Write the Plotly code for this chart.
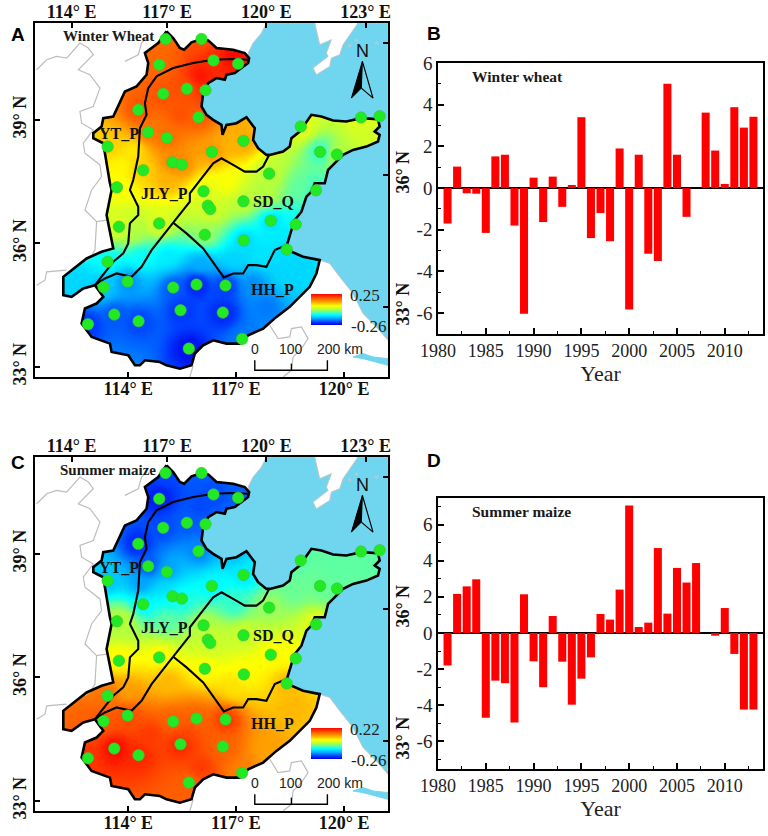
"""Winter wheat / summer maize anomaly maps with yearly bar charts."""

import numpy as np
import plotly.graph_objects as go

W, H = 768, 836

YEARS = list(range(1981, 2014))
WHEAT = [-1.7, 1.03, -0.25, -0.27, -2.15, 1.52, 1.6, -1.8, -6.03, 0.5, -1.63, 0.55, -0.9, 0.15, 3.4, -2.4, -1.2,
         -2.55, 1.9, -5.82, 1.6, -3.15, -3.5, 5.0, 1.6, -1.38, 0, 3.62, 1.8, 0.2, 3.88, 2.9, 3.42]
MAIZE = [-1.8, 2.16, 2.58, 2.97, -4.7, -2.64, -2.78, -4.96, 2.14, -1.57, -3.0, 0.94, -1.59, -3.97, -2.53, -1.35,
         1.05, 0.74, 2.4, 7.05, 0.33, 0.57, 4.7, 1.07, 3.6, 2.79, 3.87, 0, -0.15, 1.38, -1.16, -4.24, -4.24]

# map units: projected coordinates of the sheet, same for both maps
ST_X = [497, 605, 478, 641, 715, 490, 561, 617, 415, 596, 445, 501, 323, 731, 636, 961, 1012, 518, 546, 430, 808,
        903, 1084, 1140, 351, 949, 611, 731, 624, 631, 813, 888, 478, 357, 615, 732, 861, 323, 383, 311, 520, 590,
        677, 343, 416, 264, 542, 669, 727, 567]
ST_Y = [118, 118, 195, 182, 192, 282, 267, 271, 330, 352, 397, 414, 440, 423, 456, 456, 464, 487, 494, 511, 521,
        380, 353, 349, 562, 571, 574, 604, 617, 627, 662, 673, 670, 680, 704, 721, 748, 785, 844, 861, 862, 853,
        856, 943, 963, 972, 930, 937, 1016, 1045]
ST_WHEAT = [0.17, 0.19, 0.17, 0.22, 0.235, 0.19, 0.19, 0.22, 0.19, 0.18, 0.16, 0.17, 0.09, 0.12, 0.13, -0.07, 0.0,
            0.15, 0.14, 0.09, 0.005, 0.035, 0.035, 0.03, 0.05, -0.07, 0.035, 0.005, 0.02, 0.02, -0.12, -0.09, 0.035,
            0.035, -0.015, -0.12, -0.12, -0.09, -0.17, -0.13, -0.2, -0.245, -0.22, -0.2, -0.21, -0.22, -0.22,
            -0.235, -0.18, -0.25]
ST_MAIZE = [-0.21, -0.2, -0.245, -0.21, -0.2, -0.21, -0.2, -0.2, -0.235, -0.18, -0.21, -0.165, -0.14, -0.115,
            -0.105, -0.055, -0.06, -0.1, -0.09, -0.105, -0.03, -0.06, -0.06, -0.06, -0.02, 0.02, -0.02, 0.0, 0.0,
            0.0, 0.04, 0.04, 0.04, 0.04, 0.04, 0.04, 0.085, 0.14, 0.17, 0.16, 0.15, 0.15, 0.185, 0.22, 0.195,
            0.185, 0.2, 0.15, 0.125, 0.15]

# surface values read between stations, where no station sits
EXTRA_WHEAT = [(850, 820, -0.12), (900, 800, -0.12), (760, 850, -0.17), (800, 920, -0.18), (500, 770, -0.105),
               (600, 790, -0.15), (420, 770, -0.09), (700, 780, -0.12), (780, 770, -0.11), (230, 850, -0.12),
               (400, 700, -0.005), (600, 230, 0.24), (700, 170, 0.25), (540, 340, 0.19), (700, 420, 0.11),
               (400, 450, 0.07), (360, 500, 0.06), (500, 540, 0.11), (680, 550, 0.055), (800, 590, 0.0),
               (900, 560, -0.045), (850, 700, -0.105), (1100, 400, 0.02)]
EXTRA_MAIZE = [(560, 900, 0.17), (600, 1000, 0.18), (450, 900, 0.18), (800, 950, 0.1), (880, 820, 0.085),
               (250, 860, 0.15), (700, 760, 0.057), (500, 740, 0.085), (380, 770, 0.1), (600, 220, -0.21),
               (700, 360, -0.14), (880, 470, -0.055), (700, 510, -0.08), (500, 560, -0.06), (370, 560, -0.01),
               (500, 460, -0.125), (420, 450, -0.165), (1100, 400, -0.06), (1000, 400, -0.06)]

NORTH = [(500, 95), (520, 115), (540, 145), (553, 150), (575, 128), (605, 118), (625, 122), (650, 145), (700, 150),
         (735, 160)]
COAST = [(748, 175), (745, 190), (725, 205), (705, 220), (680, 225), (675, 240), (650, 235), (625, 250), (610, 280),
         (605, 320), (620, 345), (640, 360), (665, 375), (668, 405), (680, 375), (710, 370), (740, 352), (765, 385),
         (760, 420), (775, 445), (800, 465), (810, 465), (850, 455), (870, 440), (875, 415), (900, 395), (935, 345),
         (965, 350), (1000, 362), (1040, 365), (1085, 355), (1135, 358), (1140, 380), (1125, 395), (1140, 405),
         (1135, 425), (1100, 440), (1060, 450), (1030, 465), (1005, 490), (985, 510), (975, 550), (945, 550),
         (935, 575), (920, 590), (905, 635), (885, 660), (875, 690), (860, 740), (875, 755), (910, 770), (960, 780)]
SOUTH = [(950, 820), (930, 860), (900, 890), (870, 920), (830, 950), (790, 985), (745, 1005), (720, 1030), (680, 1030),
         (640, 1020), (610, 1035), (585, 1060), (575, 1095), (540, 1105), (500, 1095), (480, 1085), (435, 1080),
         (420, 1095), (405, 1095), (385, 1065), (335, 1055), (330, 1030), (275, 1010), (245, 970), (255, 925),
         (290, 910), (310, 890), (285, 855), (250, 865), (215, 890), (190, 885), (190, 830), (260, 775), (305, 755),
         (340, 745), (335, 720), (320, 645), (335, 570), (330, 550), (320, 490), (310, 430), (280, 415), (280, 400),
         (305, 380), (310, 355), (340, 350), (365, 300), (375, 275), (410, 260), (440, 225), (445, 190), (435, 160),
         (475, 130)]
OUTLINE = NORTH + COAST + SOUTH

DIVIDE_1 = [(745, 180), (700, 178), (640, 180), (580, 190), (520, 205), (470, 230), (445, 265), (435, 310), (440, 345),
            (420, 385), (415, 470), (400, 540), (390, 570), (415, 620), (415, 645), (390, 670), (385, 730), (370, 760),
            (340, 785), (305, 830), (285, 855)]
DIVIDE_2 = [(520, 668), (480, 720), (455, 750), (425, 800), (395, 830), (350, 820), (315, 835), (285, 855)]
DIVIDE_3 = [(808, 465), (790, 500), (770, 515), (735, 515), (700, 495), (665, 475), (640, 490), (600, 540), (570, 580),
            (570, 605), (545, 635), (520, 668)]
DIVIDE_4 = [(520, 668), (560, 700), (610, 745), (650, 800), (672, 832), (700, 820), (730, 820), (745, 795), (770, 795),
            (800, 800), (825, 750), (860, 735)]

SEA_NORTH = [(800, 70), (785, 100), (760, 130), (745, 160)]
SEA_EAST = [(990, 790), (1020, 830), (1060, 880), (1090, 940), (1130, 980), (1165, 1020), (1165, 70)]
LIAODONG = [(945, 70), (955, 115), (960, 135), (995, 120), (980, 160), (985, 170), (940, 205), (950, 225), (990, 200),
            (995, 175), (1020, 165), (1030, 135), (1050, 105), (1075, 70)]
RIVER = [(1060, 1070), (1090, 1060), (1120, 1070), (1165, 1075), (1165, 1095), (1130, 1085), (1090, 1075)]
GRAY_LINES = [
    [(110, 210), (140, 180), (170, 170), (200, 175), (240, 130), (265, 145), (280, 165), (235, 210), (270, 225),
     (300, 265), (280, 320), (240, 335), (245, 370), (280, 390), (250, 430), (255, 460), (300, 495), (305, 530),
     (275, 570), (255, 630), (290, 665), (320, 660)],
    [(290, 665), (285, 750), (270, 775), (255, 785)],
    [(200, 810), (140, 815), (135, 840), (110, 855)],
    [(375, 185), (415, 165), (425, 130), (440, 115)],
    [(810, 975), (835, 1015), (870, 1010), (875, 985), (905, 980), (925, 1015), (905, 1045), (880, 1070), (875, 1110),
     (850, 1130)],
    [(580, 1095), (570, 1130)],
]
ISLE_X = [1050, 1070, 1130]
ISLE_Y = [138, 122, 130]

COLORS = [[0, "#0000e8"], [0.1, "#0040ff"], [0.2, "#00a0ff"], [0.33, "#00ffff"], [0.42, "#60ffa0"], [0.5, "#b0ff40"],
          [0.62, "#ffff00"], [0.75, "#ffa000"], [0.88, "#ff5000"], [1, "#ff0000"]]

LON_BOTTOM = [385, 708, 1033]
LON_TOP = [215, 502, 800, 1098]
LAT_LEFT = [360, 730, 1100]
LAT_RIGHT = [130, 525, 920]
SERIF = "Liberation Serif"
SANS = "Liberation Sans"


def inside(px, py, poly):
    # crossing number test on a whole grid
    res = np.zeros(px.shape, dtype=bool)
    n = len(poly)
    for i in range(n):
        x0, y0 = poly[i]
        x1, y1 = poly[(i + 1) % n]
        if y0 == y1:
            continue
        hit = ((y0 > py) != (y1 > py)) & (px < (x1 - x0) * (py - y0) / (y1 - y0) + x0)
        res ^= hit
    return res


def station_surface(vals, extra):
    # inverse distance surface from the read values, masked to the plain
    gx = np.arange(105, 1166, 3.0)
    gy = np.arange(70, 1131, 3.0)
    mx, my = np.meshgrid(gx, gy)
    sx = np.array(ST_X + [e[0] for e in extra])
    sy = np.array(ST_Y + [e[1] for e in extra])
    sv = np.array(vals + [e[2] for e in extra])
    d2 = (mx[..., None] - sx) ** 2 + (my[..., None] - sy) ** 2 + 400.0
    w = d2 ** -1.5
    z = (w * sv).sum(axis=2) / w.sum(axis=2)
    z[~inside(mx, my, OUTLINE)] = np.nan
    return gx, gy, z


def xy(points):
    return [p[0] for p in points], [p[1] for p in points]


def add_map(fig, vals, extra, zmin, zmax, xa, ya, bar_top):
    gx, gy, z = station_surface(vals, extra)
    fig.add_trace(go.Heatmap(
        x=gx, y=gy, z=z, xaxis=xa, yaxis=ya, zmin=zmin, zmax=zmax, colorscale=COLORS, hoverinfo="skip",
        colorbar=dict(x=311 / W, xanchor="left", y=1 - bar_top / H, yanchor="top", lenmode="pixels", len=31,
                      thicknessmode="pixels", thickness=31, xpad=0, ypad=0, outlinewidth=0, showticklabels=False,
                      ticks=""),
    ))

    def line(pts, color, width, fill=None, fillcolor=None):
        x, y = xy(pts)
        fig.add_trace(go.Scatter(x=x, y=y, mode="lines", xaxis=xa, yaxis=ya, fill=fill, fillcolor=fillcolor,
                                 line=dict(color=color, width=width), hoverinfo="skip", showlegend=False))

    line(SEA_NORTH + COAST + SEA_EAST + SEA_NORTH[:1], "#c4c4c4", 1, "toself", "#70d6f0")
    line(LIAODONG, "#c4c4c4", 1, "toself", "white")
    line(RIVER + RIVER[:1], "#70d6f0", 1, "toself", "#70d6f0")
    for g in GRAY_LINES:
        line(g, "#bdbdbd", 1.2)
    fig.add_trace(go.Scatter(x=ISLE_X, y=ISLE_Y, mode="markers", xaxis=xa, yaxis=ya, hoverinfo="skip",
                             marker=dict(size=3, color="#c4c4c4"), showlegend=False))
    line(OUTLINE + OUTLINE[:1], "black", 2.6)
    for d in (DIVIDE_1, DIVIDE_2, DIVIDE_3, DIVIDE_4):
        line(d, "black", 2.1)
    # north arrow
    line([(1088, 185), (1055, 295), (1085, 265), (1088, 185)], "black", 1, "toself", "black")
    line([(1088, 185), (1120, 295), (1085, 265)], "black", 1.2)
    # scale bar
    line([(765, 1080), (765, 1110), (983, 1110), (983, 1080)], "black", 1.4)
    line([(875, 1090), (875, 1110)], "black", 1.4)
    fig.add_trace(go.Scatter(x=ST_X, y=ST_Y, mode="markers", xaxis=xa, yaxis=ya, hoverinfo="skip", showlegend=False,
                             marker=dict(size=11.5, color="#22ea22", line=dict(color="#3fc03f", width=0.6))))


def map_axes(fig, n, top, lat_labels=("39° N", "36° N", "33° N")):
    # n is the number of the bottom/left axis pair; n + 1 carries the top/right ticks
    dom_x = [35 / W, 388 / W]
    dom_y = [1 - (top + 354) / H, 1 - top / H]
    tick = dict(ticks="inside", ticklen=5, tickwidth=2, tickcolor="black", showgrid=False, zeroline=False,
                tickfont=dict(family=SERIF, size=18, color="#111", weight=600))
    a, b = ("" if n == 1 else str(n)), str(n + 1)
    fig.update_layout({
        f"xaxis{a}": dict(domain=dom_x, range=[105, 1165], anchor=f"y{a}", tickvals=LON_BOTTOM, ticklabelstandoff=-6,
                          ticktext=["114° E", "117° E", "120° E"], showline=True, mirror=True, linewidth=2.2,
                          linecolor="black", **tick),
        f"yaxis{a}": dict(domain=dom_y, range=[1130, 70], anchor=f"x{a}", tickvals=LAT_LEFT, ticktext=list(lat_labels),
                          tickangle=-90, showline=True, mirror=True, linewidth=2.2, linecolor="black", **tick),
        f"xaxis{b}": dict(domain=dom_x, range=[105, 1165], anchor=f"y{b}", overlaying=f"x{a}", side="top",
                          tickvals=LON_TOP, ticktext=["114° E", "117° E", "120° E", "123° E"], **tick),
        f"yaxis{b}": dict(domain=dom_y, range=[1130, 70], anchor=f"x{b}", overlaying=f"y{a}", side="right",
                          tickvals=LAT_RIGHT, ticktext=["", "36° N", "33° N"], tickangle=-90, ticklabelstandoff=2,
                          **tick),
    })
    fig.add_trace(go.Scatter(x=[None], y=[None], xaxis=f"x{b}", yaxis=f"y{b}", showlegend=False, hoverinfo="skip"))


def map_text(fig, xa, ya, title, hi, lo):
    items = [
        (325, 108, title, SERIF, 15, True, "#1a1a1a"),
        (358, 400, "YT_P", SERIF, 16, True, "#111"),
        (493, 582, "JLY_P", SERIF, 16, True, "#111"),
        (820, 605, "SD_Q", SERIF, 16, True, "#111"),
        (817, 868, "HH_P", SERIF, 16, True, "#111"),
        (1097, 885, hi, SERIF, 17, False, "#222"),
        (1105, 980, lo, SERIF, 17, False, "#222"),
        (765, 1045, "0", SANS, 14, False, "#222"),
        (875, 1045, "100", SANS, 14, False, "#222"),
        (1020, 1045, "200 km", SANS, 14, False, "#222"),
        (1088, 155, "N", SANS, 18, False, "#111"),
    ]
    for x, y, t, fam, size, bold, col in items:
        fig.add_annotation(x=x, y=y, xref=xa, yref=ya, text=f"<b>{t}</b>" if bold else t, showarrow=False,
                           font=dict(family=fam, size=size, color=col), xanchor="center", yanchor="middle")


def add_bars(fig, vals, n, top, ymin, ymax, label, label_x, yticks):
    fig.add_trace(go.Bar(x=YEARS, y=vals, width=0.84, marker=dict(color="#ff0000", line=dict(width=0)),
                         xaxis=f"x{n}", yaxis=f"y{n}", showlegend=False))
    fig.update_layout({
        f"xaxis{n}": dict(domain=[438 / W, 763 / W], range=[1980, 2014], anchor=f"y{n}", dtick=5, tick0=1980,
                          ticks="inside", ticklen=6, tickwidth=1.5, tickcolor="black", showgrid=False, zeroline=False,
                          showline=True, mirror=True, linewidth=1.6, linecolor="black",
                          tickfont=dict(family=SERIF, size=18, color="#222"),
                          minor=dict(tickmode="linear", tick0=1980, dtick=2.5, ticks="inside", ticklen=3,
                                     tickwidth=1.2, tickcolor="black"),
                          title=dict(text="Year", font=dict(family=SERIF, size=22, color="#222"), standoff=4)),
        f"yaxis{n}": dict(domain=[1 - (top + 271) / H, 1 - top / H], range=[ymin, ymax], anchor=f"x{n}",
                          tickvals=yticks, ticktext=[str(v) for v in yticks], ticks="inside", ticklen=6, tickwidth=1.5,
                          tickcolor="black", showgrid=False, zeroline=True, zerolinecolor="black", zerolinewidth=2,
                          showline=True, mirror=True, linewidth=1.6, linecolor="black",
                          tickfont=dict(family=SERIF, size=19, color="#222"),
                          minor=dict(tickmode="linear", tick0=0, dtick=1, ticks="inside", ticklen=3, tickwidth=1.2,
                                     tickcolor="black")),
    })
    fig.add_annotation(x=label_x, y=label, xref=f"x{n}", yref=f"y{n}", showarrow=False,
                       text=f"<b>{'Winter wheat' if n == 5 else 'Summer maize'}</b>",
                       font=dict(family=SERIF, size=15.5, color="#1a1a1a"))


fig = go.Figure()
add_map(fig, ST_WHEAT, EXTRA_WHEAT, -0.26, 0.25, "x", "y", 294)
map_axes(fig, 1, 23)
map_text(fig, "x", "y", "Winter Wheat", "0.25", "-0.26")
add_map(fig, ST_MAIZE, EXTRA_MAIZE, -0.26, 0.22, "x3", "y3", 728)
map_axes(fig, 3, 457)
map_text(fig, "x3", "y3", "Summer maize", "0.22", "-0.26")
add_bars(fig, WHEAT, 5, 63, -7, 6, 5.33, 1988.3, [-6, -4, -2, 0, 2, 4, 6])
add_bars(fig, MAIZE, 6, 498, -7.53, 7.47, 6.7, 1988.7, [-6, -4, -2, 0, 2, 4, 6])

for letter, px, py in [("A", 9, 22), ("B", 434, 21), ("C", 9, 462), ("D", 434, 460)]:
    fig.add_annotation(x=px / W, y=1 - py / H, xref="paper", yref="paper", text=f"<b>{letter}</b>", showarrow=False,
                       font=dict(family=SANS, size=19, color="black"))

fig.update_layout(width=W, height=H, margin=dict(l=0, r=0, t=0, b=0, autoexpand=False), paper_bgcolor="white",
                  plot_bgcolor="white", showlegend=False)
# the page's default body margin would push the sheet 8px down and right
fig.write_html("out.html", post_script="document.body.style.margin = '0';", config={"displayModeBar": False})
